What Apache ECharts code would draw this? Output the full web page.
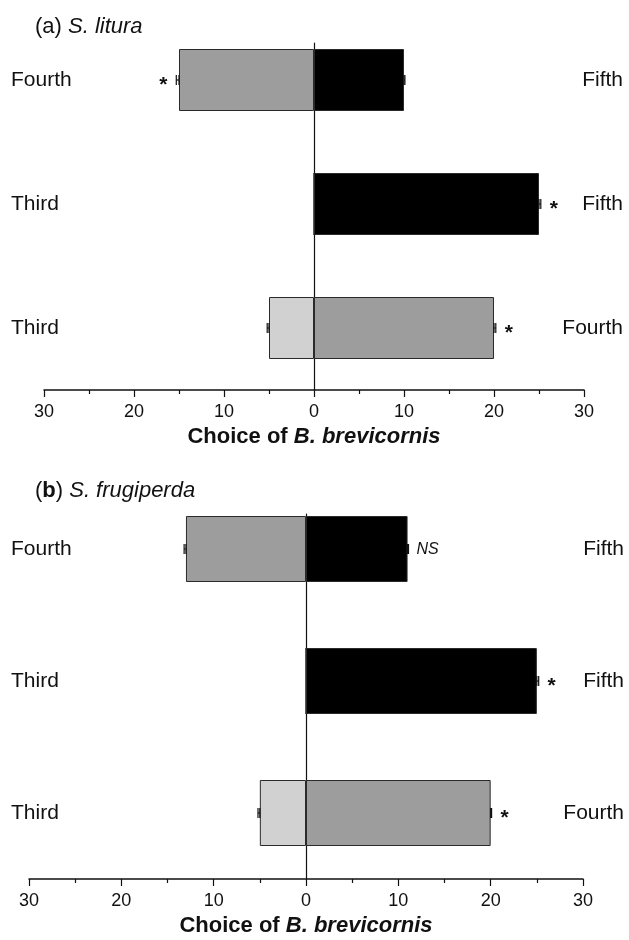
<!DOCTYPE html>
<html>
<head>
<meta charset="utf-8">
<script src="https://cdn.jsdelivr.net/npm/echarts@6/dist/echarts.min.js"></script>
<style>
  html, body { margin: 0; padding: 0; background: #fff; }
  #chart { width: 629px; height: 940px; }
</style>
</head>
<body>
<div id="chart"></div>
<script>
// Paired-choice rows, listed bottom to top.
const pairs = ['Third-Fourth', 'Third-Fifth', 'Fourth-Fifth'];
const leftNames = ['Third', 'Third', 'Fourth'];
const rightNames = ['Fourth', 'Fifth', 'Fifth'];
const xTicks = [-30, -20, -10, 0, 10, 20, 30];

// Number of choices per instar; negative values are the left-hand instar of a pair.
const thirdA = [-5, 0, null];
const fourthA = [20, null, -15];
const fifthA = [null, 25, 10];
const thirdErrA = [0.2, 0, null];
const fourthErrA = [0.2, null, 0.3];
const fifthErrA = [null, 0.2, 0.1];
const sigTextA = ['*', '*', '*'];
const sigSideA = [1, 1, -1];

const thirdB = [-5, 0, null];
const fourthB = [20, null, -13];
const fifthB = [null, 25, 11];
const thirdErrB = [0.2, 0, null];
const fourthErrB = [0.1, null, 0.2];
const fifthErrB = [null, 0.2, 0.1];
const sigTextB = ['*', '*', 'NS'];
const sigSideB = [1, 1, 1];

const FONT = '"Liberation Sans", Arial, sans-serif';
const INK = '#111';
const COLORS = { third: '#d0d1d0', fourth: '#9c9d9c', fifth: '#000000' };

function errItems(vals, errs) {
  const out = [];
  vals.forEach((v, i) => { if (v !== null && v !== 0) out.push([v, i, errs[i]]); });
  return out;
}

function sigItems(groups, sides) {
  // anchor each significance mark at the outer end of the bar on its side
  return sides.map((side, i) => {
    for (const [vals, errs] of groups) {
      const v = vals[i];
      if (v !== null && v !== 0 && Math.sign(v) === side) return [v + side * errs[i], i];
    }
    return [0, i];
  });
}

function errorSeries(xi, yi, data) {
  return {
    type: 'custom', xAxisIndex: xi, yAxisIndex: yi, z: 5, data: data,
    renderItem: function (params, api) {
      const v = api.value(0), i = api.value(1), e = api.value(2);
      const s = v < 0 ? -1 : 1;
      const p0 = api.coord([v, i]);
      const p1 = api.coord([v + s * e, i]);
      const h = 5;
      const st = { stroke: INK, lineWidth: 1.2 };
      return { type: 'group', children: [
        { type: 'line', shape: { x1: p0[0], y1: p0[1], x2: p1[0], y2: p1[1] }, style: st },
        { type: 'line', shape: { x1: p1[0], y1: p1[1] - h, x2: p1[0], y2: p1[1] + h }, style: st },
        { type: 'line', shape: { x1: p0[0], y1: p0[1] - h, x2: p0[0], y2: p0[1] + h }, style: st }
      ]};
    }
  };
}

function sigSeries(xi, yi, data, texts, sides) {
  return {
    type: 'custom', xAxisIndex: xi, yAxisIndex: yi, z: 6, data: data,
    renderItem: function (params, api) {
      const p = api.coord([api.value(0), api.value(1)]);
      const t = texts[params.dataIndex];
      const side = sides[params.dataIndex];
      if (t === '*') {
        return { type: 'text', x: p[0] + side * 13, y: p[1] + 5,
          style: { text: '*', font: 'bold 21px ' + FONT, fill: INK, align: 'center', verticalAlign: 'middle' } };
      }
      return { type: 'text', x: p[0] + side * 8, y: p[1] + 1,
        style: { text: t, font: 'italic 16px ' + FONT, fill: INK, align: side > 0 ? 'left' : 'right', verticalAlign: 'middle' } };
    }
  };
}

function barSeries(name, vals, color, xi, yi, stack) {
  return {
    name: name, type: 'bar', stack: stack, xAxisIndex: xi, yAxisIndex: yi,
    data: vals, barCategoryGap: '50%',
    itemStyle: { color: color, borderColor: '#2a2a2a', borderWidth: 1 }
  };
}

function valueAxis(gi, labelled) {
  return {
    type: 'value', gridIndex: gi, min: xTicks[0], max: xTicks[xTicks.length - 1], interval: 10,
    show: labelled,
    name: labelled ? 'Choice of {i|B. brevicornis}' : '',
    nameLocation: 'middle', nameGap: 36,
    nameTextStyle: { fontFamily: FONT, fontWeight: 'bold', fontSize: 22, color: INK,
      rich: { i: { fontFamily: FONT, fontWeight: 'bold', fontStyle: 'italic', fontSize: 22, color: INK } } },
    axisLine: { show: true, onZero: false, lineStyle: { color: INK, width: 1.5 } },
    axisTick: { show: true, inside: false, length: 7, lineStyle: { color: INK, width: 1.2 } },
    minorTick: { show: true, splitNumber: 2, length: 4, lineStyle: { color: INK, width: 1.2 } },
    splitLine: { show: false }, minorSplitLine: { show: false },
    axisLabel: { margin: 13, fontFamily: FONT, fontSize: 18, color: INK,
      formatter: v => String(Math.abs(v)) }
  };
}

function catAxis(gi, pos, names, margin) {
  return {
    type: 'category', gridIndex: gi, position: pos, data: pairs,
    axisLine: { show: false }, axisTick: { show: false }, splitLine: { show: false },
    axisLabel: { margin: margin, align: pos === 'left' ? 'left' : 'right',
      fontFamily: FONT, fontSize: 21, color: INK, formatter: (v, idx) => names[idx] }
  };
}

function zeroAxis(gi) {
  return {
    type: 'value', gridIndex: gi, min: 0, max: 1,
    axisLine: { show: true, onZero: true, lineStyle: { color: INK, width: 1.2 } },
    axisTick: { show: false }, axisLabel: { show: false }, splitLine: { show: false }
  };
}

const chart = echarts.init(document.getElementById('chart'), null, { renderer: 'canvas' });
chart.setOption({
  animation: false,
  backgroundColor: '#fff',
  title: [
    { text: '(a) {i|S. litura}', left: 30, top: 11,
      textStyle: { fontFamily: FONT, fontSize: 22, fontWeight: 'normal', color: INK,
        rich: { i: { fontFamily: FONT, fontSize: 22, fontStyle: 'italic', color: INK } } } },
    { text: '({b|b}) {i|S. frugiperda}', left: 30, top: 475,
      textStyle: { fontFamily: FONT, fontSize: 22, fontWeight: 'normal', color: INK,
        rich: { b: { fontFamily: FONT, fontSize: 22, fontWeight: 'bold', color: INK },
                i: { fontFamily: FONT, fontSize: 22, fontStyle: 'italic', color: INK } } } }
  ],
  grid: [
    { left: 44, width: 540, top: 18, height: 372, outerBoundsMode: 'none', containLabel: false },
    { left: 44, width: 540, top: 43, height: 347, outerBoundsMode: 'none', containLabel: false },
    { left: 29, width: 554, top: 483, height: 396, outerBoundsMode: 'none', containLabel: false },
    { left: 29, width: 554, top: 514, height: 365, outerBoundsMode: 'none', containLabel: false }
  ],
  xAxis: [valueAxis(0, true), valueAxis(1, false), valueAxis(2, true), valueAxis(3, false)],
  yAxis: [
    catAxis(0, 'left', leftNames, 33),
    catAxis(0, 'right', rightNames, 39),
    zeroAxis(1),
    catAxis(2, 'left', leftNames, 18),
    catAxis(2, 'right', rightNames, 41),
    zeroAxis(3)
  ],
  series: [
    barSeries('Third', thirdA, COLORS.third, 0, 0, 'a'),
    barSeries('Fourth', fourthA, COLORS.fourth, 0, 0, 'a'),
    barSeries('Fifth', fifthA, COLORS.fifth, 0, 0, 'a'),
    errorSeries(0, 0, errItems(thirdA, thirdErrA).concat(errItems(fourthA, fourthErrA), errItems(fifthA, fifthErrA))),
    sigSeries(0, 0, sigItems([[thirdA, thirdErrA], [fourthA, fourthErrA], [fifthA, fifthErrA]], sigSideA), sigTextA, sigSideA),

    barSeries('Third', thirdB, COLORS.third, 2, 3, 'b'),
    barSeries('Fourth', fourthB, COLORS.fourth, 2, 3, 'b'),
    barSeries('Fifth', fifthB, COLORS.fifth, 2, 3, 'b'),
    errorSeries(2, 3, errItems(thirdB, thirdErrB).concat(errItems(fourthB, fourthErrB), errItems(fifthB, fifthErrB))),
    sigSeries(2, 3, sigItems([[thirdB, thirdErrB], [fourthB, fourthErrB], [fifthB, fifthErrB]], sigSideB), sigTextB, sigSideB)
  ]
});
</script>
</body>
</html>
